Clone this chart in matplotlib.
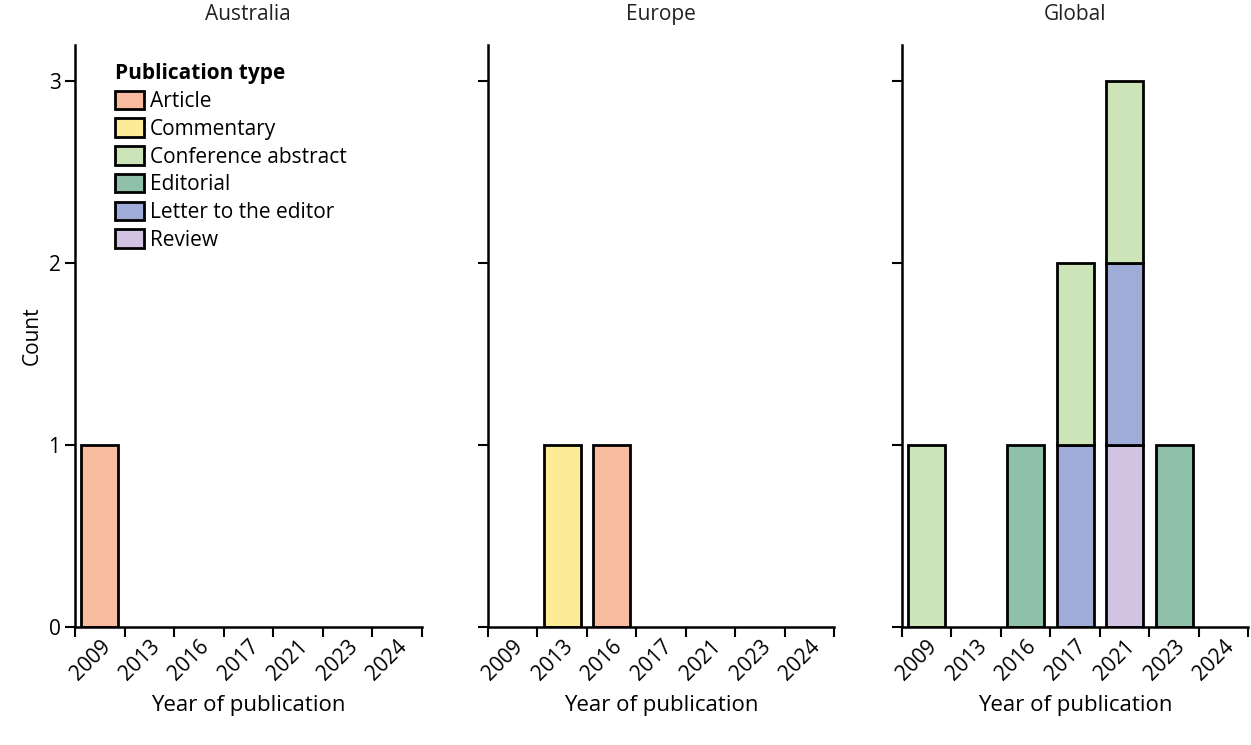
import matplotlib
matplotlib.use("Agg")
import matplotlib.pyplot as plt
from matplotlib.patches import Patch

plt.rcParams["font.family"] = "Open Sans"

years = ["2009", "2013", "2016", "2017", "2021", "2023", "2024"]
types = ["Article", "Commentary", "Conference abstract", "Editorial", "Letter to the editor", "Review"]
colors = ["#F9BBA0", "#FDEB98", "#CDE3B8", "#8FC0A8", "#9FACD8", "#D2C3E3"]
stack_order = ["Review", "Letter to the editor", "Editorial", "Article", "Commentary", "Conference abstract"]

regions = ["Australia", "Europe", "Global"]
data = {
    "Australia": {"Article": [1, 0, 0, 0, 0, 0, 0]},
    "Europe": {"Commentary": [0, 1, 0, 0, 0, 0, 0],
               "Article": [0, 0, 1, 0, 0, 0, 0]},
    "Global": {"Conference abstract": [1, 0, 0, 1, 1, 0, 0],
               "Editorial": [0, 0, 1, 0, 0, 1, 0],
               "Letter to the editor": [0, 0, 0, 1, 1, 0, 0],
               "Review": [0, 0, 0, 0, 1, 0, 0]},
}

fig = plt.figure(figsize=(12.51, 7.45), dpi=100)
lefts = [0.060, 0.390, 0.721]
cmap = dict(zip(types, colors))
for i, reg in enumerate(regions):
    ax = fig.add_axes([lefts[i], 0.158, 0.277, 0.782])
    centers = [k + 0.5 for k in range(len(years))]
    bottom = [0] * len(years)
    for t in stack_order:
        if t in data[reg]:
            vals = data[reg][t]
            hs = [v if v > 0 else 0 for v in vals]
            for c, h, b in zip(centers, hs, bottom):
                if h > 0:
                    ax.bar(c, h, bottom=b, width=0.75, color=cmap[t], edgecolor="black", linewidth=2)
            bottom = [b + h for b, h in zip(bottom, hs)]
    ax.set_xlim(0, 7)
    ax.set_ylim(0, 3.2)
    ax.set_xticks(range(8))
    ax.set_xticklabels([])
    ax.set_xticks(centers, minor=True)
    ax.set_xticklabels(years, minor=True, rotation=45, ha="right", rotation_mode="anchor", fontsize=15)
    ax.tick_params(axis="x", which="minor", length=0, pad=6)
    ax.tick_params(axis="x", which="major", length=7, width=1.5)
    ax.set_yticks([0, 1, 2, 3])
    ax.tick_params(axis="y", length=7, width=1.5, labelsize=15)
    if i > 0:
        ax.set_yticklabels([])
    else:
        ax.set_ylabel("Count", fontsize=15)
    for s in ["top", "right"]:
        ax.spines[s].set_visible(False)
    for s in ["left", "bottom"]:
        ax.spines[s].set_linewidth(1.8)
    ax.set_title(reg, fontsize=15, pad=18, color="#222222")
    ax.set_xlabel("Year of publication", fontsize=16, labelpad=8)
    if i == 0:
        handles = [Patch(facecolor=c, edgecolor="black", linewidth=2, label=t) for t, c in zip(types, colors)]
        leg = ax.legend(handles=handles, title="Publication type", loc="upper left",
                        bbox_to_anchor=(0.06, 1.0), frameon=False, fontsize=15,
                        title_fontproperties={"weight": "bold", "size": 15},
                        handlelength=1.4, handleheight=1.0, handletextpad=0.3, labelspacing=0.3)
        leg._legend_box.align = "left"

fig.savefig("out.png", dpi=100)
